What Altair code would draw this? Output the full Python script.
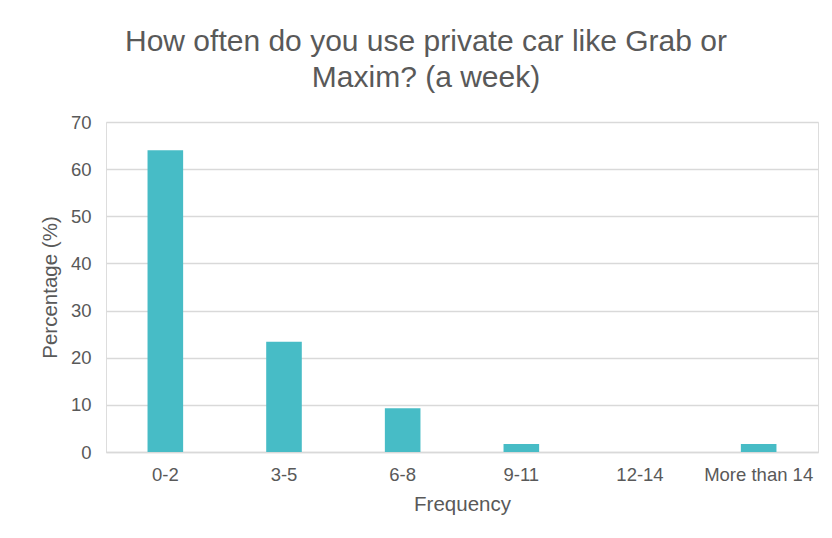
import altair as alt
import pandas as pd

categories = ["0-2", "3-5", "6-8", "9-11", "12-14", "More than 14"]
values = [64.0, 23.4, 9.3, 1.7, 0.0, 1.7]

df = pd.DataFrame({"Frequency": categories, "Percentage": values})

TEXT = "#595959"
FONT = "Liberation Sans"

chart = (
    alt.Chart(df)
    .mark_bar(color="#47BCC6")
    .encode(
        x=alt.X(
            "Frequency:N",
            sort=categories,
            title="Frequency",
            scale=alt.Scale(paddingInner=0.7, paddingOuter=0.35),
            axis=alt.Axis(
                labelAngle=0,
                labelFontSize=18.5,
                labelColor=TEXT,
                labelFont=FONT,
                labelPadding=13,
                titleFontSize=20.5,
                titleColor=TEXT,
                titleFont=FONT,
                titleFontWeight="normal",
                titlePadding=11,
                ticks=False,
                grid=False,
                domain=True,
                domainColor="#D9D9D9",
                domainWidth=1.3,
            ),
        ),
        y=alt.Y(
            "Percentage:Q",
            title="Percentage (%)",
            scale=alt.Scale(domain=[0, 70]),
            axis=alt.Axis(
                values=[0, 10, 20, 30, 40, 50, 60, 70],
                labelFontSize=18.5,
                labelColor=TEXT,
                labelFont=FONT,
                labelPadding=15,
                titleFontSize=20.5,
                titleColor=TEXT,
                titleFont=FONT,
                titleFontWeight="normal",
                titlePadding=10,
                ticks=False,
                domain=False,
                gridColor="#D9D9D9",
                gridWidth=1.3,
            ),
        ),
    )
    .properties(
        width=712,
        height=330,
        title=alt.TitleParams(
            text=["How often do you use private car like Grab or", "Maxim? (a week)"],
            fontSize=30,
            font=FONT,
            fontWeight="normal",
            color=TEXT,
            anchor="middle",
            dx=-36,
            offset=20,
            lineHeight=36,
        ),
        padding={"left": 98, "top": 114, "right": 6, "bottom": 78},
        autosize=alt.AutoSizeParams(type="none"),
    )
    .configure_view(strokeWidth=0, stroke="transparent")
    .configure(background="white")
)

chart.save("out.html", embed_options={"renderer": "svg", "actions": False})
